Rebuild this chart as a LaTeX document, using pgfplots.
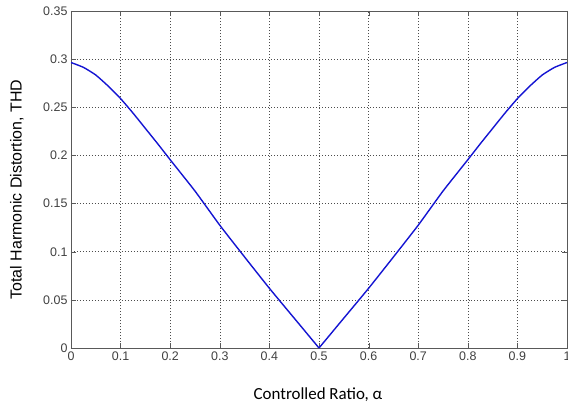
\documentclass[border=0pt]{standalone}
\usepackage{fontspec}
\setmainfont{Liberation Sans}
\newfontfamily\calibri{Carlito}
\usepackage{pgfplots}
\pgfplotsset{compat=1.18}
\definecolor{matblue}{RGB}{20,20,210}

\begin{document}
\begin{tikzpicture}
\begin{axis}[
  scale only axis,
  width=496bp, height=337bp,
  xmin=0, xmax=1, ymin=0, ymax=0.35,
  xtick={0,0.1,0.2,0.3,0.4,0.5,0.6,0.7,0.8,0.9,1},
  ytick={0,0.05,0.1,0.15,0.2,0.25,0.3,0.35},
  xticklabel style={/pgf/number format/fixed, /pgf/number format/precision=2},
  yticklabel style={/pgf/number format/fixed, /pgf/number format/precision=2},
  /pgf/number format/assume math mode=true,
  tick label style={font=\fontsize{12.5}{14}\selectfont, text=black!75},
  tick align=inside,
  major tick length=5bp,
  xtick pos=both, ytick pos=both,
  axis line style={black!65},
  tick style={black!65},
  grid=major,
  grid style={black!70, line width=0.5pt, dash pattern=on 0.8pt off 2.2pt},
  xlabel={\calibri Controlled Ratio, α},
  ylabel={Total Harmonic Distortion, THD},
  xlabel style={font=\fontsize{17}{19}\selectfont, at={(axis description cs:0.498,-0.139)}, anchor=center},
  ylabel style={font=\fontsize{16}{18}\selectfont, at={(axis description cs:-0.109,0.47)}, anchor=center, rotate=0},
]
\addplot[matblue, line width=1.4bp, smooth, tension=0.3] coordinates {
  (0,0.2965)(0.025,0.2915)(0.05,0.2835)(0.075,0.2720)(0.1,0.2590)
  (0.125,0.2440)(0.15,0.2280)(0.175,0.2120)(0.2,0.1955)(0.25,0.1630)
  (0.3,0.1275)(0.35,0.0945)(0.4,0.0620)(0.45,0.0310)(0.5,0.0000)};
\addplot[matblue, line width=1.4bp, smooth, tension=0.3] coordinates {
  (0.5,0.0000)(0.55,0.0310)(0.6,0.0620)(0.65,0.0945)(0.7,0.1275)
  (0.75,0.1630)(0.8,0.1955)(0.825,0.2120)(0.85,0.2280)(0.875,0.2440)
  (0.9,0.2590)(0.925,0.2720)(0.95,0.2835)(0.975,0.2915)(1,0.2965)};
\end{axis}
\pgfresetboundingbox
\path[use as bounding box] (-71bp,-64bp) rectangle (497bp,348bp);
\end{tikzpicture}
\end{document}
